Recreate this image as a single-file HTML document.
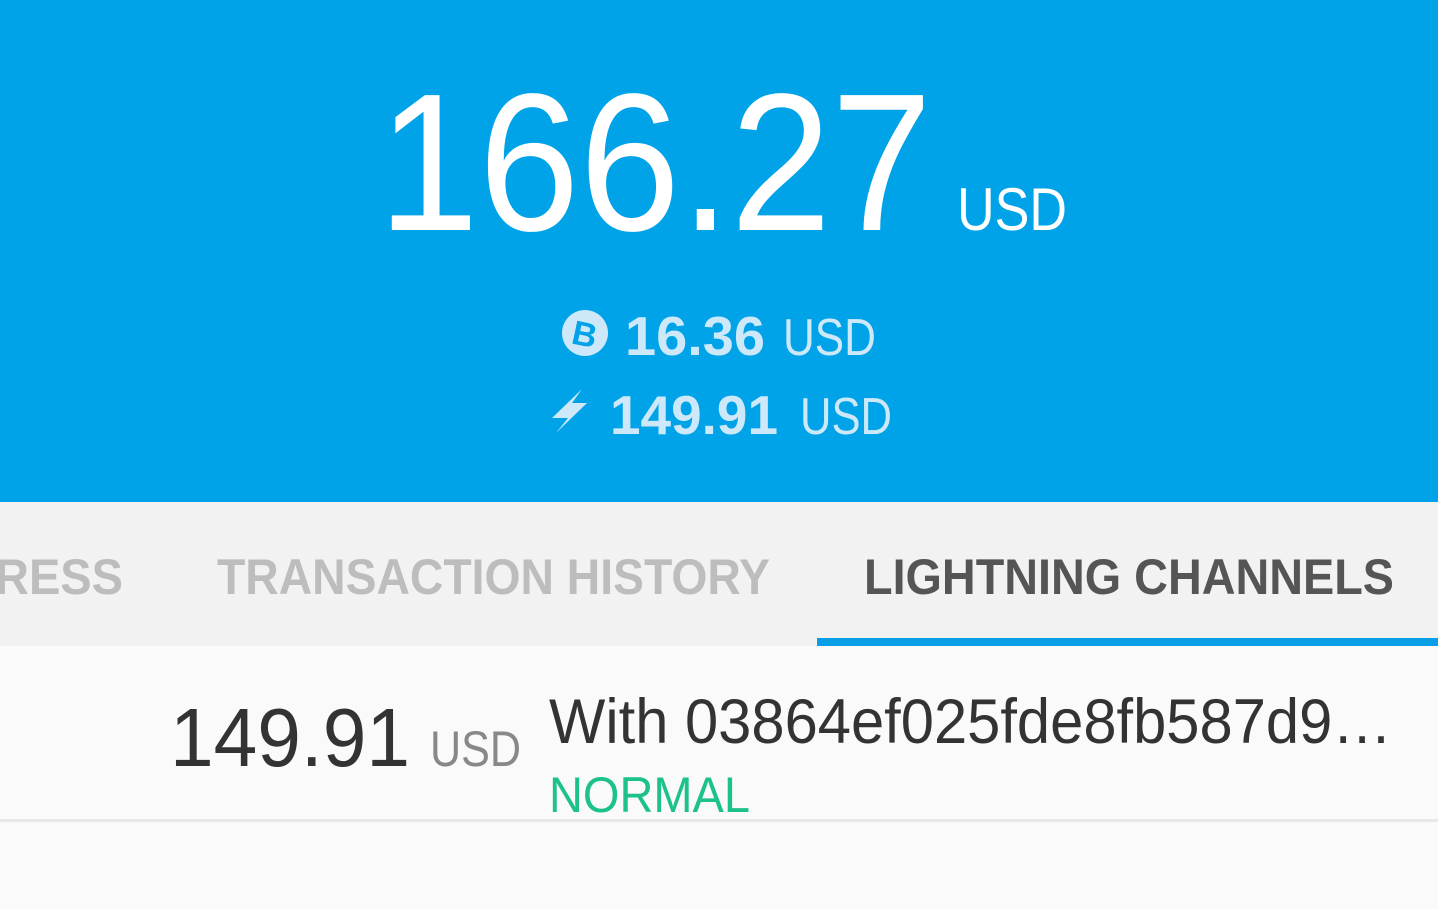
<!DOCTYPE html>
<html><head><meta charset="utf-8"><style>
html,body{margin:0;padding:0;width:1438px;height:909px;overflow:hidden;background:#fafafa}
svg{display:block;font-family:"Liberation Sans",sans-serif}
</style></head><body>
<svg width="1438" height="909" viewBox="0 0 1438 909">
  <rect x="0" y="0" width="1438" height="502" fill="#00a3e8"/>
  <text x="378" y="230" font-size="196" fill="#ffffff" textLength="554" lengthAdjust="spacingAndGlyphs">166.27</text>
  <text x="957" y="230" font-size="60" fill="#ffffff" textLength="110" lengthAdjust="spacingAndGlyphs">USD</text>

  <g>
    <circle cx="585" cy="333" r="23" fill="#cde9f9"/>
    <text x="585" y="346" font-size="34" font-weight="bold" fill="#00a3e8" text-anchor="middle" transform="rotate(12 585 333)">B</text>
  </g>
  <text x="625" y="355" font-size="55" font-weight="bold" fill="#cde9f9" textLength="140" lengthAdjust="spacingAndGlyphs">16.36</text>
  <text x="783" y="355" font-size="52" fill="#cde9f9" textLength="93" lengthAdjust="spacingAndGlyphs">USD</text>

  <polygon points="582,389 552,418 568,418 556,433 587,403 572,403" fill="#cde9f9"/>
  <text x="610" y="434" font-size="55" font-weight="bold" fill="#cde9f9" textLength="168" lengthAdjust="spacingAndGlyphs">149.91</text>
  <text x="800" y="434" font-size="52" fill="#cde9f9" textLength="92" lengthAdjust="spacingAndGlyphs">USD</text>

  <rect x="0" y="502" width="1438" height="144" fill="#f2f2f2"/>
  <text x="-5" y="594" font-size="50" font-weight="bold" fill="#bdbdbd" textLength="128" lengthAdjust="spacingAndGlyphs">RESS</text>
  <text x="217" y="594" font-size="50" font-weight="bold" fill="#bdbdbd" textLength="553" lengthAdjust="spacingAndGlyphs">TRANSACTION HISTORY</text>
  <text x="864" y="594" font-size="50" font-weight="bold" fill="#555555" textLength="530" lengthAdjust="spacingAndGlyphs">LIGHTNING CHANNELS</text>
  <rect x="817" y="638" width="621" height="8" fill="#0a9ee6"/>

  <g>
    <rect x="0" y="646" width="1438" height="173" fill="#fafafa"/>
    <text x="170" y="766" font-size="83" fill="#333333" textLength="240" lengthAdjust="spacingAndGlyphs">149.91</text>
    <text x="430" y="766" font-size="50" fill="#888888" textLength="91" lengthAdjust="spacingAndGlyphs">USD</text>
    <text x="549" y="743" font-size="63" fill="#333333" textLength="843" lengthAdjust="spacingAndGlyphs">With 03864ef025fde8fb587d9…</text>
    <text x="549" y="812" font-size="50" fill="#1dc28a" textLength="201" lengthAdjust="spacingAndGlyphs">NORMAL</text>
  </g>
  <rect x="0" y="819" width="1438" height="3" fill="#e8e8e8"/>
</svg>
</body></html>
